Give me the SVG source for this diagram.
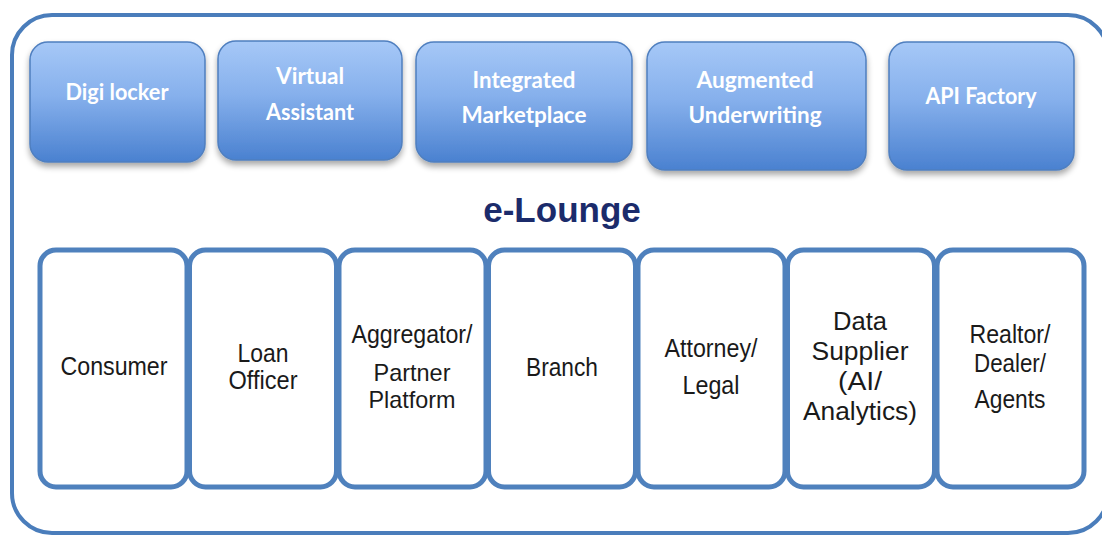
<svg xmlns="http://www.w3.org/2000/svg" width="1102" height="535" viewBox="0 0 1102 535">
  <defs>
    <linearGradient id="tileFill" x1="0" y1="0" x2="0" y2="1">
      <stop offset="0" stop-color="#a6c8f7"/>
      <stop offset="0.45" stop-color="#86b0ec"/>
      <stop offset="1" stop-color="#4a81d0"/>
    </linearGradient>
    <filter id="tileShadow" x="-10%" y="-10%" width="120%" height="130%">
      <feGaussianBlur in="SourceAlpha" stdDeviation="3"/>
      <feOffset dx="0" dy="4" result="blur"/>
      <feComponentTransfer><feFuncA type="linear" slope="0.35"/></feComponentTransfer>
      <feMerge><feMergeNode/><feMergeNode in="SourceGraphic"/></feMerge>
    </filter>
  </defs>
  <style>
    .frame { fill: #ffffff; stroke: #4a7dbb; stroke-width: 4; }
    .tile { fill: url(#tileFill); stroke: #4f7fbf; stroke-width: 1.5; filter: url(#tileShadow); }
    .tileText { font-family: Lato, "Open Sans", sans-serif; font-weight: 700; font-size: 22px; fill: #ffffff; text-anchor: middle; }
    .card { fill: #ffffff; stroke: #4f81bd; stroke-width: 5; }
    .cardText { font-family: "Liberation Sans", Arial, sans-serif; font-size: 26px; fill: #1a1a1a; text-anchor: middle; }
    .tight { font-size: 24px; }
    .title { font-family: "Liberation Sans", Arial, sans-serif; font-weight: 700; font-size: 35px; fill: #1b2b6b; text-anchor: middle; }
  </style>

  <rect class="frame" x="12" y="15" width="1096" height="518" rx="40" ry="40"/>

  <!-- service tiles -->
  <g id="digi-locker">
    <rect class="tile" x="30" y="42" width="175" height="120" rx="18"/>
    <text class="tileText" x="117" y="100" textLength="103" lengthAdjust="spacingAndGlyphs">Digi locker</text>
  </g>
  <g id="virtual-assistant">
    <rect class="tile" x="218" y="41" width="184" height="119" rx="18"/>
    <text class="tileText" x="310" y="84" textLength="68" lengthAdjust="spacingAndGlyphs">Virtual</text>
    <text class="tileText" x="310" y="120" textLength="88" lengthAdjust="spacingAndGlyphs">Assistant</text>
  </g>
  <g id="integrated-marketplace">
    <rect class="tile" x="416" y="42" width="216" height="120" rx="18"/>
    <text class="tileText" x="524" y="88" textLength="103" lengthAdjust="spacingAndGlyphs">Integrated</text>
    <text class="tileText" x="524" y="123" textLength="125" lengthAdjust="spacingAndGlyphs">Marketplace</text>
  </g>
  <g id="augmented-underwriting">
    <rect class="tile" x="647" y="42" width="219" height="128" rx="18"/>
    <text class="tileText" x="755" y="88" textLength="117" lengthAdjust="spacingAndGlyphs">Augmented</text>
    <text class="tileText" x="755" y="123" textLength="133" lengthAdjust="spacingAndGlyphs">Underwriting</text>
  </g>
  <g id="api-factory">
    <rect class="tile" x="889" y="42" width="185" height="128" rx="18"/>
    <text class="tileText" x="981" y="104" textLength="111" lengthAdjust="spacingAndGlyphs">API Factory</text>
  </g>

  <g id="e-lounge">
    <text class="title" x="562" y="222">e-Lounge</text>
  </g>

  <!-- participant cards -->
  <g id="consumer">
    <rect class="card" x="40" y="250" width="147" height="237" rx="16"/>
    <text class="cardText" x="114" y="375" textLength="107" lengthAdjust="spacingAndGlyphs">Consumer</text>
  </g>
  <g id="loan-officer">
    <rect class="card" x="189.5" y="250" width="147" height="237" rx="16"/>
    <text class="cardText" x="263" y="362" textLength="51" lengthAdjust="spacingAndGlyphs">Loan</text>
    <text class="cardText" x="263" y="389" textLength="69" lengthAdjust="spacingAndGlyphs">Officer</text>
  </g>
  <g id="aggregator-partner-platform">
    <rect class="card" x="339" y="250" width="147" height="237" rx="16"/>
    <text class="cardText" x="412" y="343" textLength="121" lengthAdjust="spacingAndGlyphs">Aggregator/</text>
    <text class="cardText tight" x="412" y="381" textLength="77" lengthAdjust="spacingAndGlyphs">Partner</text>
    <text class="cardText tight" x="412" y="408" textLength="87" lengthAdjust="spacingAndGlyphs">Platform</text>
  </g>
  <g id="branch">
    <rect class="card" x="488.5" y="250" width="147" height="237" rx="16"/>
    <text class="cardText" x="562" y="376" textLength="72" lengthAdjust="spacingAndGlyphs">Branch</text>
  </g>
  <g id="attorney-legal">
    <rect class="card" x="638" y="250" width="147" height="237" rx="16"/>
    <text class="cardText" x="711" y="357" textLength="93" lengthAdjust="spacingAndGlyphs">Attorney/</text>
    <text class="cardText" x="711" y="394" textLength="57" lengthAdjust="spacingAndGlyphs">Legal</text>
  </g>
  <g id="data-supplier">
    <rect class="card" x="787.5" y="250" width="147" height="237" rx="16"/>
    <text class="cardText" x="860" y="330" textLength="54" lengthAdjust="spacingAndGlyphs">Data</text>
    <text class="cardText" x="860" y="360" textLength="97" lengthAdjust="spacingAndGlyphs">Supplier</text>
    <text class="cardText" x="860" y="390" textLength="44" lengthAdjust="spacingAndGlyphs">(AI/</text>
    <text class="cardText" x="860" y="420" textLength="114" lengthAdjust="spacingAndGlyphs">Analytics)</text>
  </g>
  <g id="realtor-dealer-agents">
    <rect class="card" x="937" y="250" width="147" height="237" rx="16"/>
    <text class="cardText" x="1010" y="343" textLength="81" lengthAdjust="spacingAndGlyphs">Realtor/</text>
    <text class="cardText" x="1010" y="372" textLength="72" lengthAdjust="spacingAndGlyphs">Dealer/</text>
    <text class="cardText" x="1010" y="408" textLength="71" lengthAdjust="spacingAndGlyphs">Agents</text>
  </g>

  <g id="connectors"/>
</svg>
